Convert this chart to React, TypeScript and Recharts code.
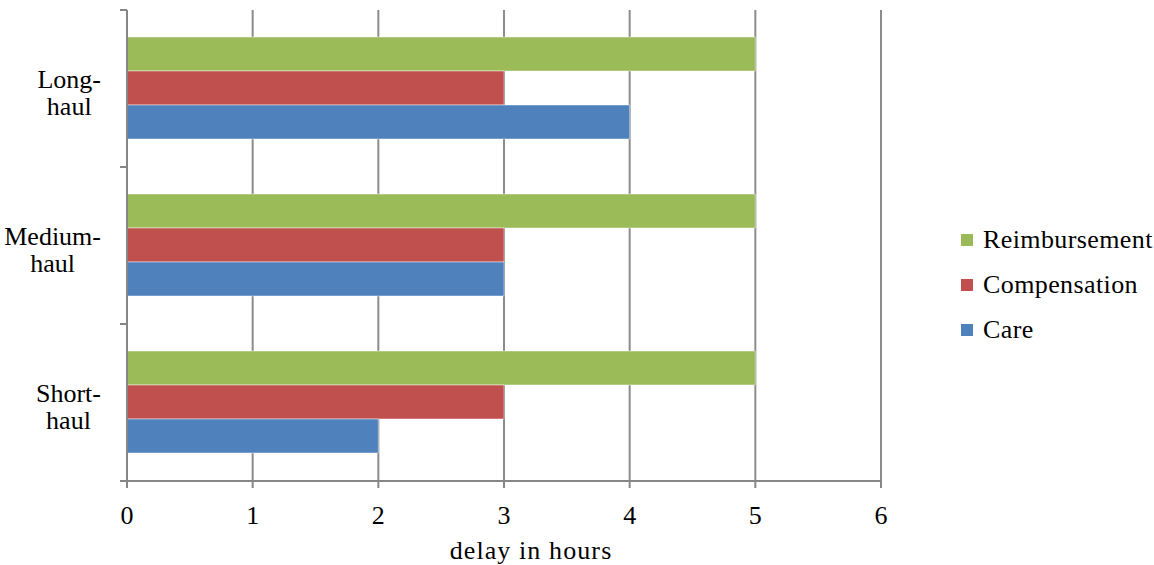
import React from "react";
import {
  BarChart,
  Bar,
  XAxis,
  YAxis,
  CartesianGrid,
  Legend,
} from "recharts";

const categories = ["Long-\nhaul", "Medium-\nhaul", "Short-\nhaul"];
const reimbursement = [5, 5, 5];
const compensation = [3, 3, 3];
const care = [4, 3, 2];
const xTicks = [0, 1, 2, 3, 4, 5, 6];

const series = [
  { key: "reimbursement", name: "Reimbursement", color: "#9BBB59" },
  { key: "compensation", name: "Compensation", color: "#C0504D" },
  { key: "care", name: "Care", color: "#4F81BD" },
];

const data = categories.map((c, i) => ({
  category: c,
  reimbursement: reimbursement[i],
  compensation: compensation[i],
  care: care[i],
}));

const W = 1154;
const H = 565;
const FONT = "Liberation Serif, DejaVu Serif, serif";
const AXIS = "#868686";
const GRID = "#8c8c8c";
const MARGIN = { top: 10, right: 273, left: 17, bottom: 0 };
const Y_AXIS_W = 110;
const X_AXIS_H = 84;
const PLOT_LEFT = MARGIN.left + Y_AXIS_W;
const BAND = (H - MARGIN.top - X_AXIS_H) / categories.length;
const LABEL_RIGHT = 101;

let ctx: CanvasRenderingContext2D | null = null;
const measure = (s: string) => {
  if (!ctx) {
    ctx = document.createElement("canvas").getContext("2d");
    if (ctx) ctx.font = `26px ${FONT}`;
  }
  return ctx ? ctx.measureText(s).width : s.length * 12;
};

const CategoryTick = (props: any) => {
  const { y, payload } = props;
  const lines = String(payload.value).split("\n");
  const maxW = Math.max(...lines.map(measure));
  const cx = LABEL_RIGHT - maxW / 2;
  return (
    <g>
      <line x1={PLOT_LEFT - 7} x2={PLOT_LEFT} y1={y - BAND / 2} y2={y - BAND / 2} stroke={AXIS} strokeWidth={2} />
      <line x1={PLOT_LEFT - 7} x2={PLOT_LEFT} y1={y + BAND / 2} y2={y + BAND / 2} stroke={AXIS} strokeWidth={2} />
      <text textAnchor="middle" style={{ fontSize: 26, fontFamily: FONT }} fill="#000">
        {lines.map((l, i) => (
          <tspan key={i} x={cx} y={y - 1 + i * 27}>
            {l}
          </tspan>
        ))}
      </text>
    </g>
  );
};

const LegendContent = () => (
  <div style={{ fontFamily: FONT, fontSize: 26, color: "#000", letterSpacing: 0.4 }}>
    {series.map((s) => (
      <div key={s.key} style={{ display: "flex", alignItems: "center", height: 45, lineHeight: "45px" }}>
        <span style={{ width: 12, height: 12, background: s.color, marginRight: 10, display: "inline-block" }} />
        <span>{s.name}</span>
      </div>
    ))}
  </div>
);

export default function App() {
  return (
    <div style={{ position: "absolute", left: 0, top: 0, width: W, height: H, background: "#fff", fontFamily: FONT }}>
      <BarChart
        width={W}
        height={H}
        data={data}
        layout="vertical"
        margin={MARGIN}
        barCategoryGap={27}
        barGap={0}
        style={{ fontFamily: FONT }}
      >
        <CartesianGrid horizontal={false} stroke={GRID} strokeWidth={2} />
        <XAxis
          type="number"
          domain={[0, 6]}
          ticks={xTicks}
          interval={0}
          height={X_AXIS_H}
          tickSize={7}
          tickMargin={18}
          axisLine={{ stroke: AXIS, strokeWidth: 2 }}
          tickLine={{ stroke: AXIS, strokeWidth: 2 }}
          tick={{ fill: "#000", fontSize: 26, style: { fontFamily: FONT } }}
          label={{
            value: "delay in hours",
            position: "insideBottom",
            offset: 6,
            dx: 27,
            fill: "#000",
            fontSize: 26,
            style: { fontFamily: FONT, letterSpacing: 1.1 },
          }}
        />
        <YAxis
          type="category"
          dataKey="category"
          width={Y_AXIS_W}
          axisLine={{ stroke: AXIS, strokeWidth: 2 }}
          tickLine={false}
          tick={<CategoryTick />}
          interval={0}
        />
        <Legend
          layout="vertical"
          align="center"
          verticalAlign="middle"
          content={<LegendContent />}
          wrapperStyle={{ left: 961, top: 217, width: 193, height: 135 }}
        />
        {series.map((s) => (
          <Bar
            key={s.key}
            dataKey={s.key}
            name={s.name}
            fill={s.color}
            stroke="rgba(255,255,255,0.45)"
            strokeWidth={1}
            isAnimationActive={false}
          />
        ))}
      </BarChart>
    </div>
  );
}
